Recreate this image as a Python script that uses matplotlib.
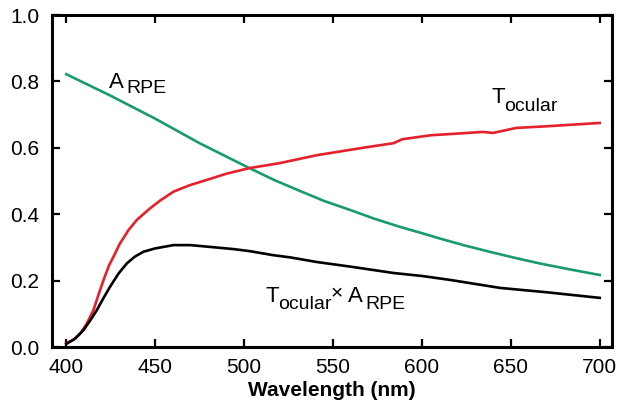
import matplotlib
matplotlib.use("Agg")
import matplotlib.pyplot as plt
import numpy as np

plt.rcParams['font.family'] = ['Liberation Sans', 'DejaVu Sans']

# A_RPE (green)
wl_a = [400, 425, 450, 475, 503, 517, 531.5, 545, 559.6, 573, 587.6, 600, 610, 624, 638, 652, 666, 683, 700]
a_rpe = [0.822, 0.757, 0.688, 0.614, 0.539, 0.503, 0.470, 0.440, 0.413, 0.387, 0.362, 0.343, 0.327,
         0.306, 0.287, 0.269, 0.252, 0.234, 0.217]

# T_ocular (red)
wl_t = [400, 404, 408, 411.5, 415.3, 418, 421, 424, 426.6, 430, 435, 439.7, 447.2, 453, 460.3,
        469.7, 480, 490, 503, 520, 541, 569, 584, 589, 605, 620, 634, 640, 653, 670, 685, 700]
t_ocular = [0.011, 0.022, 0.041, 0.07, 0.111, 0.155, 0.202, 0.245, 0.272, 0.31, 0.352, 0.383,
            0.418, 0.442, 0.468, 0.488, 0.505, 0.522, 0.539, 0.554, 0.578, 0.602, 0.614, 0.626,
            0.638, 0.643, 0.648, 0.645, 0.66, 0.665, 0.67, 0.675]

# T_ocular x A_RPE (black)
wl_p = [400, 405, 409.7, 413.5, 417.2, 421, 424.7, 429.5, 434.1, 438.5, 443.4, 450, 460.3,
        469.7, 480, 494, 503, 516, 526, 541, 560, 584, 600, 616, 630, 644, 670, 700]
product = [0.009, 0.025, 0.051, 0.08, 0.111, 0.148, 0.182, 0.222, 0.252, 0.272, 0.287, 0.297,
           0.307, 0.307, 0.302, 0.295, 0.289, 0.277, 0.27, 0.256, 0.242, 0.223, 0.214, 0.202,
           0.19, 0.178, 0.165, 0.148]

xticks = [400, 450, 500, 550, 600, 650, 700]
yticks = [0.0, 0.2, 0.4, 0.6, 0.8, 1.0]

fig = plt.figure(figsize=(6.19, 4.08), dpi=100)
ax = fig.add_axes([0.084, 0.1495, 0.905, 0.8135])

ax.plot(wl_a, a_rpe, color='#1a9b6c', lw=1.9)
ax.plot(wl_t, t_ocular, color='#e5202a', lw=1.9)
ax.plot(wl_p, product, color='black', lw=1.9)

ax.set_xlim(392, 707)
ax.set_ylim(0, 1.0)
ax.set_xticks(xticks)
ax.set_yticks(yticks)
ax.set_yticklabels([f"{v:.1f}" for v in yticks])
ax.tick_params(direction='in', length=6, width=1.6, top=True, right=True, labelsize=15)
ax.tick_params(axis='x', pad=8)
ax.tick_params(axis='y', pad=9)
for s in ax.spines.values():
    s.set_linewidth(2.2)

ax.set_xlabel('Wavelength (nm)', fontsize=15, fontweight='bold', labelpad=3)

# curve labels placed in pixel coordinates (text only)
def piece(px, py, s, size):
    fig.text(px / 619, 1 - py / 408, s, fontsize=size, ha='left', va='baseline')

piece(109, 88, 'A', 16)
piece(126, 93, 'RPE', 14)
piece(492, 103, 'T', 16)
piece(504, 111, 'ocular', 14)
piece(266, 302, 'T', 16)
piece(278, 309, 'ocular', 14)
piece(331, 299, '\u00d7', 15)
piece(348, 302, 'A', 16)
piece(365, 309, 'RPE', 14)

fig.savefig('out.png', dpi=100)
